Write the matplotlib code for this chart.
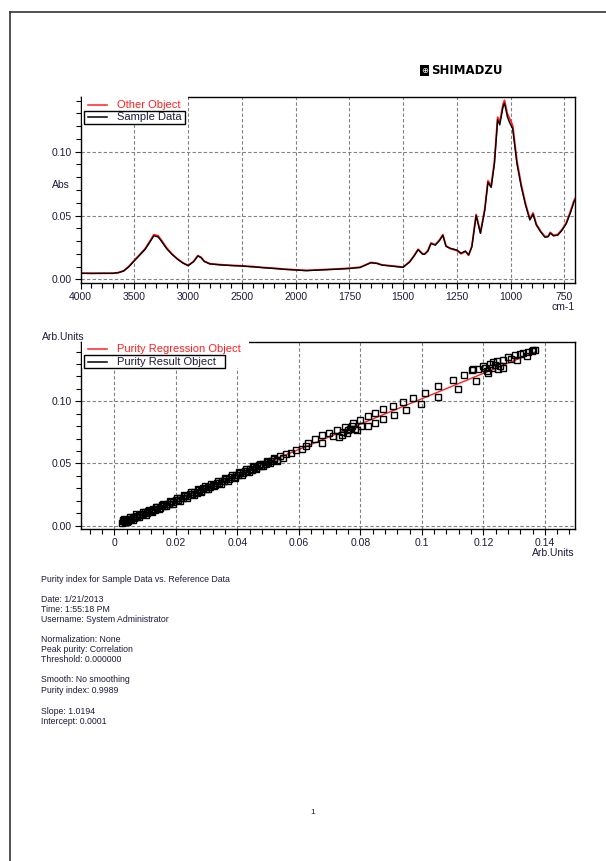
import numpy as np
import matplotlib
matplotlib.use('Agg')
import matplotlib.pyplot as plt
from matplotlib.patches import Rectangle
from matplotlib.lines import Line2D
from matplotlib.ticker import FixedLocator, MultipleLocator

plt.rcParams['font.family'] = ['Liberation Sans', 'DejaVu Sans']

# ---- spectrum data (wavenumber cm-1, Abs) ----
wavenumber = [4000, 3900, 3800, 3700, 3650, 3600, 3550, 3500, 3450, 3400, 3350, 3320, 3280, 3250,
              3200, 3150, 3100, 3050, 3000, 2950, 2910, 2880, 2850, 2800, 2700, 2600, 2500, 2400,
              2300, 2200, 2100, 2000, 1950, 1900, 1850, 1800, 1750, 1700, 1670, 1650, 1620, 1600,
              1550, 1500, 1470, 1450, 1430, 1410, 1400, 1385, 1370, 1350, 1330, 1315, 1300, 1280,
              1250, 1230, 1210, 1195, 1180, 1160, 1140, 1120, 1105, 1090, 1075, 1060, 1050, 1035,
              1028, 1015, 1005, 990, 970, 950, 930, 910, 895, 880, 860, 840, 825, 815, 800, 780,
              760, 740, 720, 705, 700]
sample_abs = [0.0047, 0.0046, 0.0047, 0.0047, 0.0052, 0.0065, 0.0100, 0.0146, 0.0190, 0.0235, 0.0300,
              0.0340, 0.0333, 0.0300, 0.0240, 0.0195, 0.0158, 0.0128, 0.0107, 0.0138, 0.0183, 0.0170,
              0.0140, 0.0121, 0.0113, 0.0108, 0.0104, 0.0098, 0.0091, 0.0085, 0.0078, 0.0073, 0.0068,
              0.0072, 0.0076, 0.0080, 0.0085, 0.0093, 0.0115, 0.0130, 0.0124, 0.0112, 0.0103, 0.0094,
              0.0135, 0.0180, 0.0232, 0.0198, 0.0196, 0.0220, 0.0280, 0.0268, 0.0305, 0.0345, 0.0258,
              0.0243, 0.0230, 0.0205, 0.0222, 0.0192, 0.0255, 0.0500, 0.0360, 0.0540, 0.0760, 0.0720,
              0.0905, 0.1250, 0.1210, 0.1350, 0.1380, 0.1275, 0.1230, 0.1180, 0.0905, 0.0725, 0.0580,
              0.0465, 0.0510, 0.0425, 0.0372, 0.0330, 0.0333, 0.0362, 0.0340, 0.0346, 0.0385, 0.0438,
              0.0528, 0.0605, 0.0620]
other_abs = [0.0049, 0.0048, 0.0048, 0.0048, 0.0053, 0.0067, 0.0103, 0.0150, 0.0195, 0.0241, 0.0307,
             0.0350, 0.0342, 0.0308, 0.0246, 0.0199, 0.0161, 0.0130, 0.0109, 0.0140, 0.0186, 0.0173,
             0.0142, 0.0123, 0.0115, 0.0110, 0.0106, 0.0100, 0.0093, 0.0087, 0.0080, 0.0075, 0.0070,
             0.0074, 0.0078, 0.0082, 0.0087, 0.0095, 0.0117, 0.0132, 0.0126, 0.0114, 0.0105, 0.0096,
             0.0137, 0.0183, 0.0236, 0.0201, 0.0199, 0.0224, 0.0285, 0.0272, 0.0310, 0.0350, 0.0262,
             0.0240, 0.0226, 0.0200, 0.0218, 0.0188, 0.0258, 0.0508, 0.0366, 0.0549, 0.0772, 0.0733,
             0.0920, 0.1270, 0.1232, 0.1372, 0.1402, 0.1300, 0.1262, 0.1205, 0.0925, 0.0740, 0.0592,
             0.0475, 0.0520, 0.0433, 0.0378, 0.0335, 0.0338, 0.0368, 0.0346, 0.0352, 0.0392, 0.0446,
             0.0538, 0.0616, 0.0632]

# ---- purity scatter data (Arb.Units) ----
result_x = [0.0025, 0.0030, 0.0035, 0.0040, 0.0045, 0.0028, 0.0038, 0.0048, 0.0055, 0.0060, 0.0065,
            0.0070, 0.0075, 0.0080, 0.0085, 0.0090, 0.0095, 0.0100, 0.0105, 0.0110, 0.0118, 0.0125,
            0.0132, 0.0140, 0.0148, 0.0155, 0.0162, 0.0170, 0.0178, 0.0185, 0.0192, 0.0200, 0.0208,
            0.0215, 0.0222, 0.0230, 0.0238, 0.0245, 0.0252, 0.0260, 0.0268, 0.0275, 0.0282, 0.0290,
            0.0298, 0.0305, 0.0312, 0.0320, 0.0328, 0.0335, 0.0342, 0.0350, 0.0358, 0.0365, 0.0372,
            0.0380, 0.0388, 0.0395, 0.0402, 0.0410, 0.0418, 0.0425, 0.0432, 0.0440, 0.0448, 0.0455,
            0.0462, 0.0470, 0.0478, 0.0485, 0.0492, 0.0500, 0.0510, 0.0520, 0.0530, 0.0540, 0.0550,
            0.0560, 0.0575, 0.0590,
            0.0032, 0.0042, 0.0052, 0.0062, 0.0072, 0.0082, 0.0092, 0.0102, 0.0112, 0.0122, 0.0135,
            0.0145, 0.0158, 0.0168, 0.0180, 0.0190, 0.0203, 0.0213, 0.0226, 0.0236, 0.0248, 0.0258,
            0.0271, 0.0281, 0.0294, 0.0304, 0.0316, 0.0326, 0.0338, 0.0348, 0.0361, 0.0371, 0.0383,
            0.0393, 0.0406, 0.0416, 0.0428, 0.0438, 0.0450, 0.0460, 0.0473, 0.0483, 0.0496, 0.0506,
            0.0518, 0.0528,
            0.0609, 0.0623, 0.0631, 0.0653, 0.0674, 0.0674, 0.0699, 0.0712, 0.0723, 0.0732, 0.0739,
            0.0745, 0.0750, 0.0756, 0.0761, 0.0766, 0.0772, 0.0777, 0.0783, 0.0790, 0.0799, 0.0802,
            0.0826, 0.0826, 0.0848, 0.0848, 0.0875, 0.0875, 0.0905, 0.0911, 0.0938, 0.0949, 0.0970,
            0.0996, 0.1010, 0.1054, 0.1054, 0.1102, 0.1119, 0.1138, 0.1162, 0.1167, 0.1176, 0.1184,
            0.1198, 0.1205, 0.1211, 0.1216, 0.1222, 0.1227, 0.1233, 0.1238, 0.1243, 0.1249, 0.1254,
            0.1265, 0.1265, 0.1281, 0.1289, 0.1303, 0.1308, 0.1319, 0.1330, 0.1341, 0.1346, 0.1357,
            0.1363, 0.1368]
result_y = [0.0024, 0.0036, 0.0030, 0.0045, 0.0041, 0.0042, 0.0026, 0.0055, 0.0050, 0.0068, 0.0061,
            0.0078, 0.0071, 0.0086, 0.0082, 0.0096, 0.0092, 0.0108, 0.0101, 0.0118, 0.0115, 0.0132,
            0.0128, 0.0148, 0.0145, 0.0163, 0.0160, 0.0178, 0.0175, 0.0193, 0.0190, 0.0208, 0.0206,
            0.0223, 0.0220, 0.0238, 0.0236, 0.0254, 0.0251, 0.0269, 0.0266, 0.0285, 0.0281, 0.0300,
            0.0297, 0.0315, 0.0312, 0.0330, 0.0328, 0.0345, 0.0343, 0.0361, 0.0358, 0.0376, 0.0373,
            0.0391, 0.0388, 0.0406, 0.0404, 0.0423, 0.0420, 0.0438, 0.0436, 0.0453, 0.0451, 0.0468,
            0.0466, 0.0484, 0.0482, 0.0499, 0.0496, 0.0514, 0.0522, 0.0536, 0.0528, 0.0558, 0.0545,
            0.0575, 0.0586, 0.0605,
            0.0050, 0.0028, 0.0069, 0.0047, 0.0090, 0.0068, 0.0110, 0.0088, 0.0130, 0.0108, 0.0154,
            0.0132, 0.0177, 0.0155, 0.0200, 0.0178, 0.0223, 0.0201, 0.0247, 0.0225, 0.0269, 0.0247,
            0.0292, 0.0270, 0.0316, 0.0294, 0.0338, 0.0316, 0.0361, 0.0339, 0.0384, 0.0362, 0.0407,
            0.0385, 0.0430, 0.0408, 0.0453, 0.0431, 0.0476, 0.0454, 0.0499, 0.0477, 0.0522, 0.0500,
            0.0542, 0.0520,
            0.0619, 0.0638, 0.0665, 0.0695, 0.0727, 0.0665, 0.0741, 0.0719, 0.0768, 0.0714, 0.0727,
            0.0754, 0.0795, 0.0741, 0.0768, 0.0781, 0.0800, 0.0822, 0.0781, 0.0768, 0.0849, 0.0800,
            0.0881, 0.0800, 0.0903, 0.0822, 0.0935, 0.0857, 0.0962, 0.0889, 0.0997, 0.0930, 0.1030,
            0.0976, 0.1070, 0.1124, 0.1038, 0.1173, 0.1100, 0.1214, 0.1249, 0.1259, 0.1165, 0.1259,
            0.1281, 0.1268, 0.1241, 0.1227, 0.1300, 0.1268, 0.1314, 0.1295, 0.1322, 0.1259, 0.1281,
            0.1330, 0.1268, 0.1357, 0.1341, 0.1368, 0.1335, 0.1376, 0.1389, 0.1362, 0.1397, 0.1408,
            0.1411, 0.1416]
slope = 1.0194
intercept = 0.0001

info_lines = [
    ("Purity index for Sample Data vs. Reference Data", 580),
    ("Date: 1/21/2013", 599),
    ("Time: 1:55:18 PM", 609.5),
    ("Username: System Administrator", 620),
    ("Normalization: None", 640),
    ("Peak purity: Correlation", 650),
    ("Threshold: 0.000000", 660),
    ("Smooth: No smoothing", 680),
    ("Purity index: 0.9989", 690.5),
    ("Slope: 1.0194", 711),
    ("Intercept: 0.0001", 721),
]

W, H = 606, 861
TXT = '#1c1c3a'
RED = '#ff2020'


def fx(x):
    return x / W


def fy(y):
    return 1 - y / H


def rect(left, top, right, bottom):
    return [fx(left), fy(bottom), (right - left) / W, (bottom - top) / H]


def fwd(x):
    x = np.asarray(x, float)
    return np.where(x > 2000, 2000 + (x - 2000) / 2, x)


def inv(t):
    t = np.asarray(t, float)
    return np.where(t > 2000, 2000 + (t - 2000) * 2, t)


def style_axes(ax):
    for s in ax.spines.values():
        s.set_linewidth(1.0)
        s.set_color('black')
    ax.tick_params(which='both', direction='out', width=0.8, colors='black',
                   labelcolor=TXT, labelsize=7.5, pad=2.5)
    ax.tick_params(which='major', length=4)
    ax.tick_params(which='minor', length=3.5)
    ax.grid(True, which='major', linestyle=(0, (3, 2)), color='#808080', lw=0.8)
    ax.set_axisbelow(True)


def fake_legend(fig, labels, colors, rows_y, box, cover):
    l, t, r, b = cover
    fig.add_artist(Rectangle((fx(l), fy(b)), (r - l) / W, (b - t) / H, transform=fig.transFigure,
                             facecolor='white', edgecolor='none', zorder=5))
    bl, bt, br, bb = box
    fig.add_artist(Rectangle((fx(bl), fy(bb)), (br - bl) / W, (bb - bt) / H, transform=fig.transFigure,
                             facecolor='none', edgecolor='black', lw=1.0, zorder=6))
    for lab, col, y in zip(labels, colors, rows_y):
        fig.add_artist(Line2D([fx(88), fx(107)], [fy(y), fy(y)], transform=fig.transFigure,
                              color=col, lw=1.1, zorder=7))
        fig.text(fx(117), fy(y), lab, color=col if col != 'black' else TXT, fontsize=8,
                 va='center', ha='left', zorder=7)


fig = plt.figure(figsize=(W / 100, H / 100), dpi=100)

# page border
fig.add_artist(Line2D([fx(10), fx(10)], [fy(12), fy(861)], transform=fig.transFigure, color='#333333', lw=1.2))
fig.add_artist(Line2D([fx(10), fx(606)], [fy(12), fy(12)], transform=fig.transFigure, color='#333333', lw=1.2))

# logo
fig.add_artist(Rectangle((fx(420), fy(76)), 9 / W, 11 / H, transform=fig.transFigure,
                         facecolor='black', edgecolor='none'))
fig.text(fx(424.5), fy(70.5), '\u2295', color='white', fontsize=6, ha='center', va='center',
         family='DejaVu Sans')
fig.text(fx(431), fy(71), 'SHIMADZU', fontsize=8.5, fontweight='bold', family='DejaVu Sans',
         ha='left', va='center', color='black')

# ---- top: spectrum ----
ax1 = fig.add_axes(rect(80.7, 97.3, 575, 283.3))
ax1.set_xscale('function', functions=(fwd, inv))
ax1.plot(wavenumber, other_abs, color=RED, lw=1.3, label='Other Object')
ax1.plot(wavenumber, sample_abs, color='black', lw=1.0, label='Sample Data')
ax1.set_xlim(4000, 700)
ax1.set_ylim(-0.0031, 0.1426)
x_major = [4000, 3500, 3000, 2500, 2000, 1750, 1500, 1250, 1000, 750]
x_minor = [v for v in list(range(3900, 2000, -100)) + list(range(1950, 700, -50)) if v not in x_major]
ax1.xaxis.set_major_locator(FixedLocator(x_major))
ax1.xaxis.set_minor_locator(FixedLocator(x_minor))
ax1.set_xticklabels([str(v) for v in x_major])
ax1.yaxis.set_major_locator(FixedLocator([0.0, 0.05, 0.10]))
ax1.yaxis.set_minor_locator(MultipleLocator(0.01))
ax1.set_yticklabels(['0.00', '0.05', '0.10'])
style_axes(ax1)
fig.text(fx(61), fy(185.5), 'Abs', fontsize=7.5, color=TXT, ha='center', va='center')
fig.text(fx(575), fy(307), 'cm-1', fontsize=7.5, color=TXT, ha='right', va='center')
fake_legend(fig, ['Other Object', 'Sample Data'], [RED, 'black'], [104.7, 117.3],
            (84, 110.7, 185, 123.5), (81.5, 95, 188, 123.5))

# ---- bottom: purity scatter ----
ax2 = fig.add_axes(rect(81, 342.3, 575, 529.3))
xr = np.array([min(result_x), max(result_x)])
ax2.plot(xr, slope * xr + intercept, color=RED, lw=1.0, zorder=2, label='Purity Regression Object')
ax2.plot(result_x, result_y, linestyle='none', marker='s', markersize=4.8, markerfacecolor='none',
         markeredgecolor='black', markeredgewidth=1.0, zorder=3, label='Purity Result Object')
ax2.set_xlim(-0.0108, 0.1498)
ax2.set_ylim(-0.0029, 0.1474)
bx_major = [0, 0.02, 0.04, 0.06, 0.08, 0.10, 0.12, 0.14]
ax2.xaxis.set_major_locator(FixedLocator(bx_major))
ax2.xaxis.set_minor_locator(MultipleLocator(0.004))
ax2.set_xticklabels(['0', '0.02', '0.04', '0.06', '0.08', '0.1', '0.12', '0.14'])
ax2.yaxis.set_major_locator(FixedLocator([0.0, 0.05, 0.10]))
ax2.yaxis.set_minor_locator(MultipleLocator(0.01))
ax2.set_yticklabels(['0.00', '0.05', '0.10'])
style_axes(ax2)
fig.text(fx(42), fy(337), 'Arb.Units', fontsize=7.5, color=TXT, ha='left', va='center')
fig.text(fx(575), fy(553), 'Arb.Units', fontsize=7.5, color=TXT, ha='right', va='center')
fake_legend(fig, ['Purity Regression Object', 'Purity Result Object'], [RED, 'black'], [349.3, 362],
            (84, 355, 225, 368.5), (82, 340, 249, 368.5))

# ---- info text ----
for line, y in info_lines:
    fig.text(fx(41), fy(y), line, fontsize=6.3, color=TXT, ha='left', va='center')
fig.text(fx(313), fy(812), '1', fontsize=6, color=TXT, ha='center', va='center')

fig.savefig('out.png', dpi=100)
